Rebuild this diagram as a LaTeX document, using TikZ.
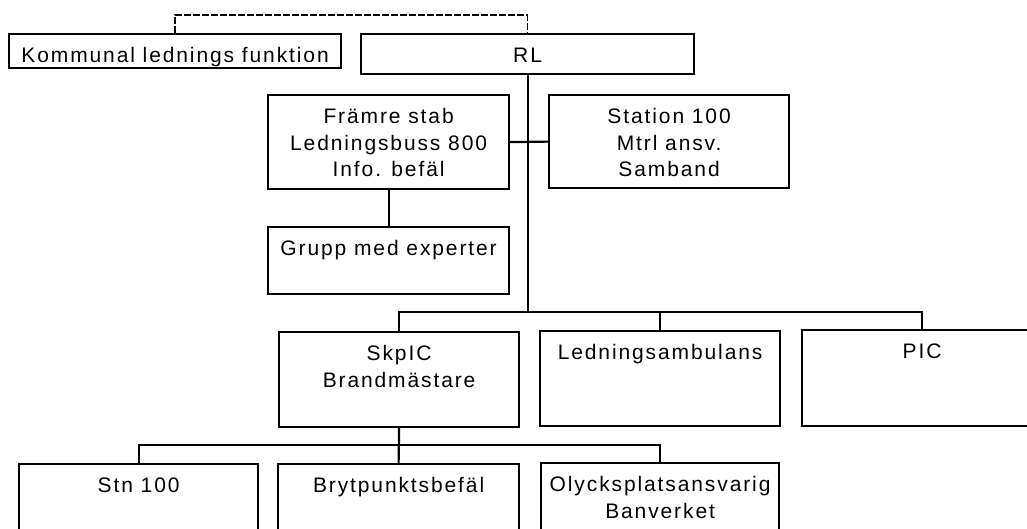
\documentclass[tikz,border=0pt]{standalone}
\usepackage{fontspec}
\setmainfont{Liberation Sans}[LetterSpace=9]

% box text: width, height, lines
\newcommand{\boxlines}[3]{\parbox[t][#2][t]{#1}{\centering\vspace{10pt}\strut#3}}

\begin{document}
\begin{tikzpicture}[x=1pt,y=-1pt,
  orgbox/.style={draw, line width=2.2pt, inner sep=0pt, anchor=north west,
    font=\fontsize{21pt}{26.5pt}\selectfont},
  link/.style={line width=2.2pt}]
\useasboundingbox (0,0) rectangle (1027,528);
\clip (0,0) rectangle (1027,528);

\node[orgbox] (komm) at (8,33) {\boxlines{332pt}{34pt}{Kommunal lednings funktion}};
\node[orgbox] (rl) at (360,33) {\boxlines{333pt}{40pt}{RL}};

\node[orgbox] (framre) at (267,94) {\boxlines{241pt}{94pt}{Främre stab\\Ledningsbuss 800\\Info. befäl}};
\node[orgbox] (station) at (548,94) {\boxlines{240pt}{93pt}{Station 100\\Mtrl ansv.\\Samband}};
\node[orgbox] (grupp) at (267,226) {\boxlines{241pt}{67pt}{Grupp med experter}};

\node[orgbox] (skpic) at (278,331) {\boxlines{240pt}{95pt}{SkpIC\\Brandmästare}};
\node[orgbox] (ledn) at (539,330) {\boxlines{240pt}{95pt}{Ledningsambulans}};
\node[orgbox] (pic) at (801,329) {\boxlines{240pt}{96pt}{PIC}};

\node[orgbox] (stn) at (18,463) {\boxlines{239pt}{90pt}{Stn 100}};
\node[orgbox] (bryt) at (277,463) {\boxlines{241pt}{90pt}{Brytpunktsbefäl}};
\node[orgbox] (olyck) at (540,462) {\boxlines{238pt}{90pt}{Olycksplatsansvarig\\Banverket}};

\coordinate (bar) at (0,312);
\coordinate (bar2) at (0,445);

% connectors
\draw[link, line width=1.4pt, dash pattern=on 7pt off 2pt] (komm.north) -- ++(0,-18) -| (rl.north);
\draw[link] (rl.south) -- (rl.south |- bar);
\draw[link] (framre.east) -- (station.west);
\draw[link] (framre.south) -- (grupp.north);
\draw[link] (skpic.north) -- (skpic.north |- bar) -- (pic.north |- bar) -- (pic.north);
\draw[link] (ledn.north) -- (ledn.north |- bar);
\draw[link] (skpic.south) -- (bryt.north);
\draw[link] (stn.north) -- (stn.north |- bar2) -- (olyck.north |- bar2) -- (olyck.north);

\end{tikzpicture}
\end{document}
